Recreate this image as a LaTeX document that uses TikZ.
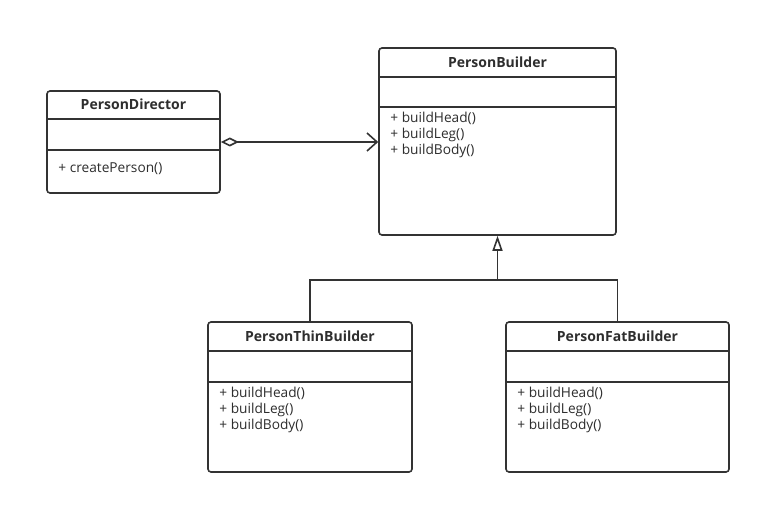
\documentclass[tikz,border=0pt]{standalone}
\usepackage{fontspec}
\setmainfont{Open Sans}
\usepackage{xcolor}
\usetikzlibrary{arrows.meta,positioning,calc}

\definecolor{lineGray}{HTML}{333333}
\definecolor{textGray}{HTML}{2E2E2E}

\begin{document}
\begin{tikzpicture}[
  x=1pt, y=-1pt,
  classbox/.style={draw=lineGray, line width=1.6pt, rounded corners=3pt, fill=white, inner sep=0pt},
  classname/.style={font=\bfseries\fontsize{14}{16}\selectfont, text=textGray, inner sep=0pt},
  members/.style={font=\fontsize{13.7}{16}\selectfont, text=textGray, align=left, anchor=north west, inner sep=0pt},
  rule/.style={draw=lineGray, line width=1.6pt},
  aggregation/.style={draw=lineGray, line width=1.6pt, {Diamond[open, length=18pt, width=9pt, fill=white]}-{Straight Barb[length=10pt, width=18pt]}},
  inherit/.style={draw=lineGray, line width=1.6pt, -{Triangle[open, length=15pt, width=10pt, fill=white]}}
]
\useasboundingbox (0,0) rectangle (761,505);

% classes
\node[classbox, minimum width=173pt, minimum height=102pt] (director) at (133.5,142) {};
\node[classbox, minimum width=237pt, minimum height=187pt] (builder) at (497.5,141.5) {};
\node[classbox, minimum width=204pt, minimum height=150pt] (thin) at (310,397) {};
\node[classbox, minimum width=223pt, minimum height=150pt] (fat) at (617.5,397) {};

% compartments
\draw[rule] ([yshift=-29pt]director.north west) -- ([yshift=-29pt]director.north east);
\draw[rule] ([yshift=-60pt]director.north west) -- ([yshift=-60pt]director.north east);
\draw[rule] ([yshift=-30pt]builder.north west) -- ([yshift=-30pt]builder.north east);
\draw[rule] ([yshift=-60pt]builder.north west) -- ([yshift=-60pt]builder.north east);
\draw[rule] ([yshift=-30pt]thin.north west) -- ([yshift=-30pt]thin.north east);
\draw[rule] ([yshift=-61pt]thin.north west) -- ([yshift=-61pt]thin.north east);
\draw[rule] ([yshift=-30pt]fat.north west) -- ([yshift=-30pt]fat.north east);
\draw[rule] ([yshift=-61pt]fat.north west) -- ([yshift=-61pt]fat.north east);

% names
\node[classname] (directorName) at ([yshift=-14.5pt]director.north) {PersonDirector};
\node[classname] (builderName) at ([yshift=-15pt]builder.north) {PersonBuilder};
\node[classname] (thinName) at ([yshift=-15pt]thin.north) {PersonThinBuilder};
\node[classname] (fatName) at ([yshift=-15pt]fat.north) {PersonFatBuilder};

% operations
\node[members] (directorOps) at ([xshift=12pt, yshift=-72pt]director.north west) {+ createPerson()};
\node[members] (builderOps) at ([xshift=12pt, yshift=-64.5pt]builder.north west) {+ buildHead()\\+ buildLeg()\\+ buildBody()};
\node[members] (thinOps) at ([xshift=12pt, yshift=-65.5pt]thin.north west) {+ buildHead()\\+ buildLeg()\\+ buildBody()};
\node[members] (fatOps) at ([xshift=12pt, yshift=-65.5pt]fat.north west) {+ buildHead()\\+ buildLeg()\\+ buildBody()};

% relations
\draw[aggregation] (director.east) -- (director.east -| builder.west);
\coordinate (joint) at (497.5,280);
\draw[rule] (thin.north) |- (joint) -| (fat.north);
\draw[inherit] (joint) -- (builder.south);

\end{tikzpicture}
\end{document}
